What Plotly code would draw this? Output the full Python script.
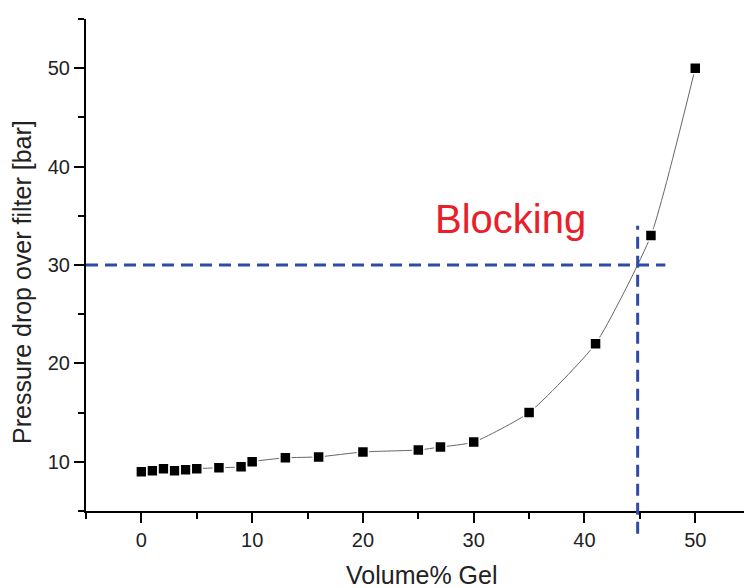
import plotly.graph_objects as go

# Measured pressure drop versus gel content
volume_pct = [0, 1, 2, 3, 4, 5, 7, 9, 10, 13, 16, 20, 25, 27, 30, 35, 41, 46, 50]
pressure_bar = [9.0, 9.1, 9.3, 9.1, 9.2, 9.3, 9.4, 9.5, 10.0, 10.4, 10.5, 11.0,
                11.2, 11.5, 12.0, 15.0, 22.0, 33.0, 50.0]

# Blocking threshold guides
blocking_pressure = 30
blocking_volume = 44.8
h_guide_end = 47.3
v_guide_top = 34.0
v_guide_bottom = 2.7

x_range = [-5, 54.4]
y_range = [5, 55]

FONT = "Arial, Liberation Sans, sans-serif"
GUIDE = dict(color="#2f4ba6", width=3, dash="12px,7px")


def y_paper(v):
    return (v - y_range[0]) / (y_range[1] - y_range[0])


fig = go.Figure()
fig.add_trace(go.Scatter(
    x=volume_pct, y=pressure_bar, mode="lines+markers",
    line=dict(color="#666666", width=1, shape="spline", smoothing=0.5),
    marker=dict(symbol="square", size=11, color="black",
                line=dict(color="white", width=1.5)),
    showlegend=False, cliponaxis=False,
))

fig.add_shape(type="line", xref="x", yref="y",
              x0=x_range[0], x1=h_guide_end,
              y0=blocking_pressure, y1=blocking_pressure, line=GUIDE)
fig.add_shape(type="line", xref="x", yref="paper",
              x0=blocking_volume, x1=blocking_volume,
              y0=y_paper(v_guide_bottom), y1=y_paper(v_guide_top), line=GUIDE)

fig.add_annotation(x=33.3, y=34.7, xref="x", yref="y", text="Blocking",
                   xanchor="center", yanchor="middle",
                   showarrow=False, font=dict(family=FONT, size=40, color="#e8202a"))

# Axis titles
fig.add_annotation(x=0.5106, y=-0.130, xref="paper", yref="paper", text="Volume% Gel",
                   xanchor="center", yanchor="middle",
                   showarrow=False, font=dict(family=FONT, size=25, color="#222222"))
fig.add_annotation(x=-0.0973, y=0.4654, xref="paper", yref="paper",
                   text="Pressure drop over filter [bar]", textangle=-90,
                   xanchor="center", yanchor="middle",
                   showarrow=False, font=dict(family=FONT, size=25, color="#222222"))

axis_common = dict(
    showgrid=False, zeroline=False, showline=True, linecolor="black", linewidth=2,
    ticks="outside", ticklen=10, tickwidth=1.5, tickcolor="black",
    tickfont=dict(family=FONT, size=20, color="#222222"),
    dtick=10, tick0=0,
)

fig.update_xaxes(
    **axis_common, range=x_range,
    minor=dict(ticks="outside", ticklen=6, tickwidth=1.5, tickcolor="black", dtick=5, tick0=0),
)
fig.update_yaxes(
    **axis_common, range=y_range,
    minor=dict(ticks="outside", ticklen=6, tickwidth=1.5, tickcolor="black", dtick=5, tick0=0),
)

fig.update_layout(
    width=744, height=588,
    margin=dict(l=86, r=0, t=19, b=77),
    plot_bgcolor="white", paper_bgcolor="white",
)

fig.write_html("out.html")
